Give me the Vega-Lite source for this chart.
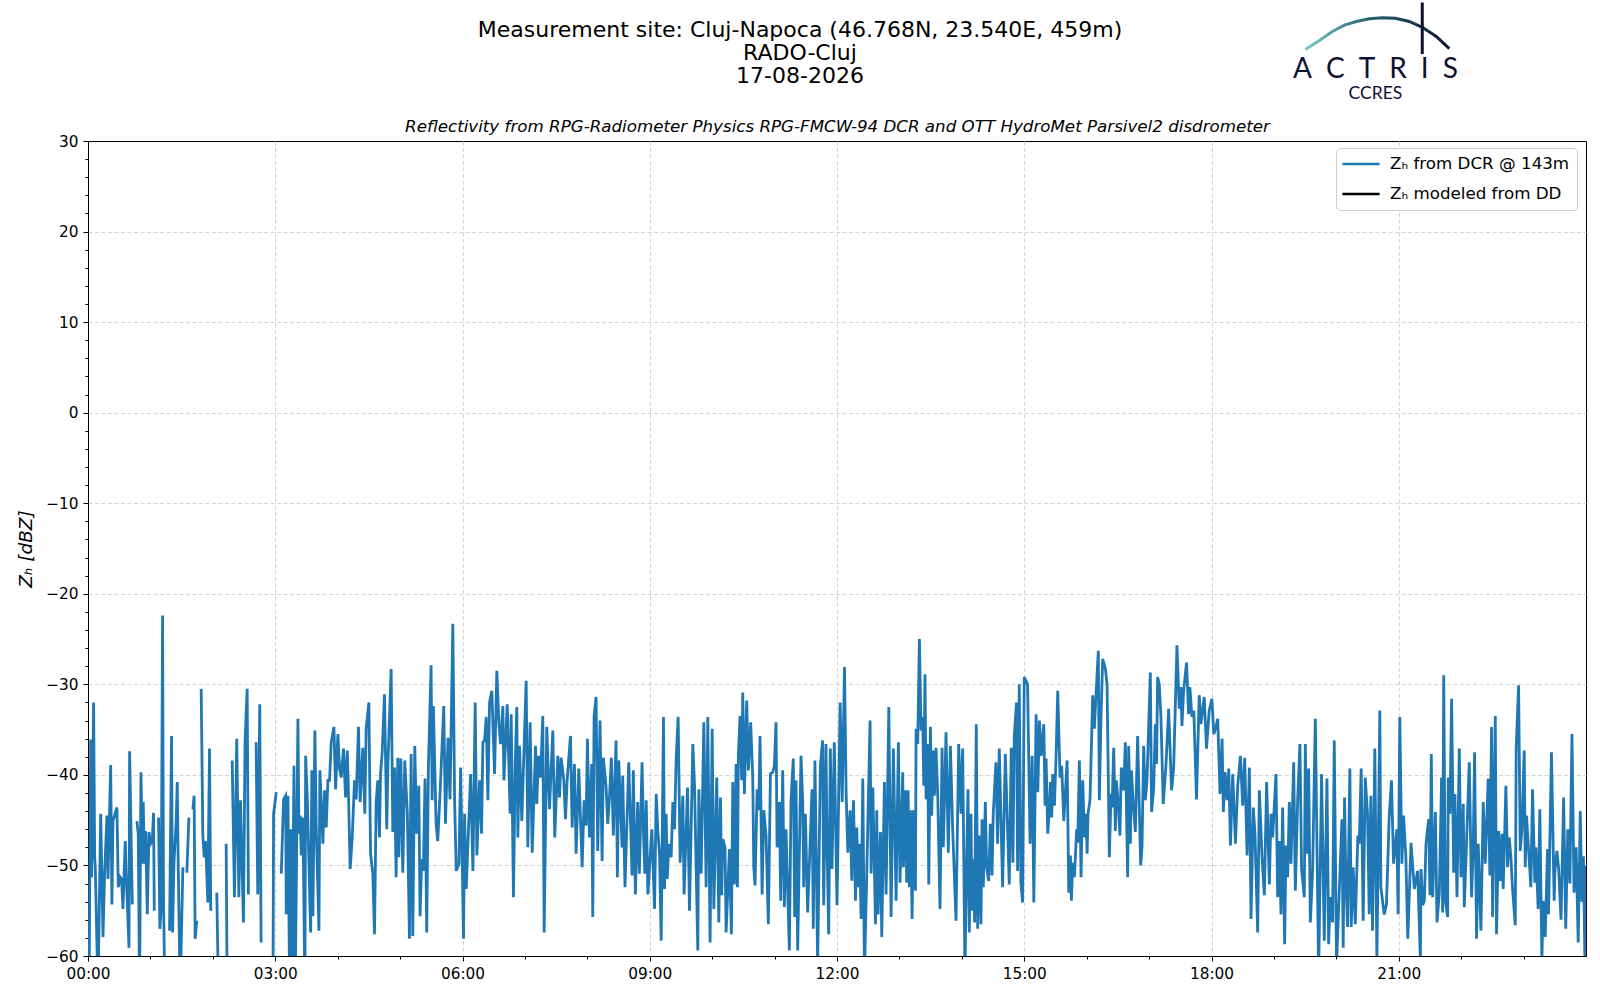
{
  "$schema": "https://vega.github.io/schema/vega-lite/v6.json",
  "width": 1498,
  "height": 815,
  "autosize": {"type": "none"},
  "padding": {"left": 88, "top": 141, "right": 14, "bottom": 44},
  "background": "white",
  "title": {
    "text": ["Measurement site: Cluj-Napoca (46.768N, 23.540E, 459m)", "RADO-Cluj", "17-08-2026"],
    "anchor": "middle",
    "dx": -37,
    "offset": -87,
    "font": "DejaVu Sans",
    "fontSize": 22,
    "fontWeight": "normal",
    "lineHeight": 23,
    "color": "black"
  },
  "datasets": {
    "dcr": [
      {"m":1.0,"z":-64},{"m":2.6,"z":-36.1},{"m":3.5,"z":-51.3},{"m":5.4,"z":-32.0},{"m":6.4,"z":-49.1},{"m":7.0,"z":-50.2},{"m":9.6,"z":-64},{"m":12.2,"z":-44.3},{"m":14.4,"z":-57.9},{"m":16.0,"z":-50.8},{"m":18.2,"z":-44.5},{"m":19.2,"z":-51.5},{"m":21.8,"z":-38.9},{"m":23.0,"z":-54.3},{"m":24.0,"z":-45.1},{"m":27.8,"z":-43.6},{"m":29.1,"z":-52.4},{"m":31.0,"z":-51.3},{"m":32.3,"z":-51.5},{"m":33.6,"z":-54.8},{"m":35.8,"z":-47.3},{"m":36.8,"z":-51.1},{"m":39.4,"z":-59.1},{"m":40.0,"z":-37.4},{"m":42.6,"z":-54.3},{"m":45,"z":null},
      {"m":47.0,"z":-45.1},{"m":48.3,"z":-46.5},{"m":49.6,"z":-64},{"m":50.9,"z":-39.7},{"m":52.5,"z":-49.8},{"m":53.1,"z":-43.0},{"m":54.1,"z":-49.8},{"m":55.4,"z":-46.2},{"m":57.0,"z":-55.4},{"m":58.6,"z":-46.3},{"m":60.2,"z":-47.6},{"m":61.8,"z":-47.3},{"m":63.0,"z":-44.2},{"m":63.7,"z":-55.0},{"m":66,"z":null},
      {"m":67.8,"z":-44.7},{"m":69.1,"z":-57.0},{"m":70.4,"z":-54.3},{"m":71.7,"z":-22.4},{"m":72.6,"z":-53.9},{"m":73.9,"z":-64},{"m":76,"z":null},
      {"m":78.4,"z":-57.2},{"m":79.0,"z":-50.4},{"m":80.3,"z":-35.7},{"m":81.3,"z":-57.4},{"m":82.6,"z":-49.8},{"m":84.8,"z":-45.1},{"m":85.8,"z":-40.8},{"m":86.7,"z":-49.7},{"m":88.6,"z":-64},{"m":91.2,"z":-50.2},{"m":93,"z":null},
      {"m":95.0,"z":-50.8},{"m":97.0,"z":-44.7},{"m":99,"z":null},
      {"m":100.8,"z":-43.8},{"m":102.0,"z":-42.3},{"m":103.0,"z":-58.1},{"m":104.6,"z":-56.1},{"m":106,"z":null},
      {"m":108.8,"z":-30.5},{"m":110.4,"z":-46.7},{"m":111.7,"z":-49.1},{"m":113.0,"z":-47.3},{"m":115.2,"z":-54.1},{"m":116.8,"z":-37.1},{"m":118.0,"z":-55.0},{"m":120,"z":null},
      {"m":123.8,"z":-53.0},{"m":125.4,"z":-64},{"m":127,"z":null},
      {"m":132.8,"z":-47.6},{"m":133.8,"z":-64},{"m":135,"z":null},
      {"m":138.6,"z":-38.4},{"m":140.8,"z":-53.5},{"m":143.0,"z":-36.0},{"m":145.0,"z":-53.5},{"m":146.6,"z":-42.8},{"m":149.4,"z":-56.3},{"m":151.0,"z":-36.2},{"m":153.0,"z":-30.5},{"m":154.2,"z":-53.2},{"m":156,"z":null},
      {"m":161.6,"z":-36.4},{"m":163.2,"z":-53.2},{"m":165.1,"z":-32.2},{"m":166.4,"z":-58.5},{"m":168,"z":null},
      {"m":177.8,"z":-64},{"m":178.4,"z":-44.3},{"m":181.0,"z":-41.9},{"m":184,"z":null},
      {"m":185.8,"z":-50.9},{"m":188.0,"z":-42.7},{"m":190.0,"z":-42.3},{"m":190.6,"z":-55.4},{"m":192.2,"z":-42.3},{"m":193.8,"z":-64},{"m":194.8,"z":-46.0},{"m":196.0,"z":-64},{"m":198.0,"z":-39.0},{"m":199.2,"z":-64},{"m":201.8,"z":-33.8},{"m":202.8,"z":-46.5},{"m":204.0,"z":-44.5},{"m":205.0,"z":-48.9},{"m":206.6,"z":-44.7},{"m":208.5,"z":-64},{"m":209.2,"z":-37.9},{"m":210.8,"z":-42.5},{"m":214.0,"z":-57.4},{"m":215.2,"z":-39.5},{"m":216.2,"z":-55.6},{"m":218.1,"z":-35.1},{"m":219.4,"z":-45.8},{"m":222.0,"z":-57.2},{"m":222.9,"z":-39.5},{"m":225.8,"z":-47.6},{"m":227.4,"z":-41.7},{"m":229.0,"z":-45.8},{"m":230.6,"z":-40.6},{"m":232.2,"z":-40.6},{"m":233.8,"z":-36.4},{"m":236.4,"z":-34.7},{"m":238.0,"z":-41.6},{"m":240.2,"z":-35.5},{"m":241.8,"z":-39.3},{"m":243.4,"z":-40.3},{"m":245.6,"z":-37.1},{"m":247.6,"z":-42.5},{"m":249.2,"z":-37.3},{"m":250.1,"z":-40.6},{"m":252.0,"z":-50.4},{"m":254.0,"z":-46.9},{"m":256.2,"z":-40.6},{"m":257.8,"z":-42.7},{"m":260.0,"z":-34.7},{"m":261.6,"z":-43.0},{"m":264.2,"z":-37.0},{"m":266.1,"z":-44.3},{"m":267.4,"z":-34.9},{"m":270.0,"z":-32.0},{"m":271.6,"z":-48.7},{"m":273.8,"z":-50.9},{"m":275.4,"z":-57.6},{"m":277.0,"z":-43.0},{"m":278.6,"z":-40.6},{"m":280.2,"z":-46.9},{"m":281.2,"z":-39.9},{"m":282.8,"z":-37.5},{"m":285.0,"z":-31.1},{"m":287.2,"z":-46.0},{"m":288.2,"z":-39.2},{"m":291.4,"z":-28.3},{"m":293.0,"z":-46.3},{"m":294.6,"z":-39.2},{"m":296.2,"z":-51.3},{"m":297.8,"z":-38.1},{"m":298.8,"z":-49.1},{"m":300.7,"z":-38.2},{"m":302.6,"z":-50.8},{"m":304.5,"z":-38.4},{"m":307.0,"z":-44.3},{"m":309.0,"z":-58.1},{"m":310.6,"z":-37.7},{"m":312.2,"z":-57.8},{"m":314.1,"z":-36.8},{"m":316.0,"z":-46.5},{"m":318.0,"z":-41.2},{"m":319.2,"z":-55.6},{"m":320.8,"z":-49.3},{"m":322.4,"z":-50.6},{"m":324.0,"z":-40.4},{"m":325.6,"z":-57.4},{"m":327.2,"z":-39.3},{"m":329.8,"z":-27.9},{"m":330.8,"z":-42.8},{"m":332.0,"z":-32.4},{"m":334.6,"z":-45.4},{"m":336.2,"z":-47.3},{"m":338.4,"z":-42.1},{"m":342.0,"z":-32.4},{"m":343.6,"z":-45.4},{"m":346.1,"z":-35.9},{"m":348.0,"z":-42.7},{"m":350.7,"z":-23.3},
      {"m":352.4,"z":-42.8},{"m":354.0,"z":-50.6},{"m":356.6,"z":-49.8},{"m":358.2,"z":-39.2},{"m":361.0,"z":-58.1},{"m":362.0,"z":-44.3},{"m":363.6,"z":-52.6},{"m":367.8,"z":-39.9},{"m":370.0,"z":-50.6},{"m":372.2,"z":-32.0},{"m":373.8,"z":-48.9},{"m":376.4,"z":-40.6},{"m":378.3,"z":-46.5},{"m":379.6,"z":-36.4},{"m":381.2,"z":-36.2},{"m":382.8,"z":-33.6},{"m":384.4,"z":-42.8},{"m":386.0,"z":-32.0},{"m":388.2,"z":-30.7},{"m":390.8,"z":-39.9},{"m":393.0,"z":-28.5},{"m":395.0,"z":-34.4},{"m":396.6,"z":-36.6},{"m":398.8,"z":-32.4},{"m":399.8,"z":-40.6},{"m":403.0,"z":-32.2},{"m":405.8,"z":-44.3},{"m":406.8,"z":-33.3},{"m":409.0,"z":-53.5},{"m":410.6,"z":-39.2},{"m":412.2,"z":-32.5},{"m":413.2,"z":-46.9},{"m":414.8,"z":-36.8},{"m":417.0,"z":-45.1},{"m":421.2,"z":-29.6},{"m":422.8,"z":-48.0},{"m":425.0,"z":-34.2},{"m":427.0,"z":-48.6},{"m":430.2,"z":-36.8},{"m":431.4,"z":-43.2},{"m":433.0,"z":-37.9},{"m":435.0,"z":-40.3},{"m":437.2,"z":-33.5},{"m":438.5,"z":-57.4},{"m":441.0,"z":-34.7},{"m":443.6,"z":-43.8},{"m":446.8,"z":-35.1},{"m":448.7,"z":-46.9},{"m":451.6,"z":-37.9},{"m":453.2,"z":-42.5},{"m":454.8,"z":-38.1},{"m":457.4,"z":-40.6},{"m":459.0,"z":-44.9},{"m":460.6,"z":-40.6},{"m":463.8,"z":-35.7},{"m":465.4,"z":-45.8},{"m":467.6,"z":-38.8},{"m":469.2,"z":-48.7},{"m":471.8,"z":-39.3},{"m":475.0,"z":-50.2},{"m":476.9,"z":-42.8},{"m":478.8,"z":-45.6},{"m":480.1,"z":-36.0},{"m":482.0,"z":-46.9},{"m":484.2,"z":-38.8},{"m":485.2,"z":-55.7},{"m":486.5,"z":-33.5},{"m":488.4,"z":-31.4},{"m":490.0,"z":-48.4},{"m":492.2,"z":-34.0},{"m":494.2,"z":-49.5},{"m":495.4,"z":-38.1},{"m":498.0,"z":-41.2},{"m":499.6,"z":-45.4},{"m":501.2,"z":-42.7},{"m":503.1,"z":-38.1},{"m":505.0,"z":-46.7},{"m":507.6,"z":-36.2},{"m":508.9,"z":-51.3},{"m":510.2,"z":-38.4},{"m":513.4,"z":-48.0},{"m":514.0,"z":-40.1},{"m":516.2,"z":-52.4},{"m":519.8,"z":-38.6},{"m":523.0,"z":-51.1},{"m":524.2,"z":-39.5},{"m":526.2,"z":-53.2},{"m":528.4,"z":-43.0},{"m":530.0,"z":-50.9},{"m":532.6,"z":-38.6},
      {"m":534.0,"z":-46.5},{"m":535.3,"z":-50.9},{"m":536.6,"z":-42.8},{"m":538.2,"z":-53.2},{"m":542.0,"z":-46.0},{"m":544.6,"z":-54.8},{"m":546.2,"z":-42.1},{"m":547.8,"z":-46.2},{"m":549.4,"z":-48.7},{"m":551.0,"z":-58.3},{"m":553.2,"z":-33.6},{"m":554.2,"z":-52.6},{"m":555.8,"z":-44.3},{"m":556.8,"z":-51.5},{"m":558.4,"z":-47.6},{"m":560.6,"z":-49.1},{"m":562.2,"z":-43.0},{"m":563.8,"z":-46.0},{"m":565.4,"z":-38.2},{"m":567.3,"z":-33.6},{"m":569.2,"z":-49.7},{"m":571.8,"z":-42.3},{"m":573.0,"z":-53.2},{"m":576.3,"z":-41.4},{"m":578.2,"z":-55.0},{"m":581.4,"z":-36.6},{"m":583.0,"z":-41.0},{"m":586.2,"z":-59.4},{"m":587.2,"z":-41.6},{"m":589.4,"z":-50.9},{"m":592.0,"z":-34.2},{"m":594.2,"z":-52.4},{"m":595.8,"z":-33.6},{"m":598.0,"z":-58.5},{"m":600.0,"z":-34.9},{"m":601.6,"z":-54.8},{"m":604.4,"z":-40.3},{"m":606.4,"z":-56.3},{"m":608.0,"z":-42.5},{"m":609.2,"z":-53.3},{"m":610.2,"z":-47.1},{"m":612.4,"z":-48.0},{"m":613.4,"z":-57.4},{"m":616.6,"z":-48.2},{"m":618.5,"z":-57.6},{"m":619.8,"z":-40.8},{"m":621.4,"z":-52.1},{"m":623.0,"z":-38.8},{"m":624.3,"z":-52.4},{"m":625.2,"z":-37.7},{"m":626.8,"z":-33.5},{"m":628.4,"z":-40.6},{"m":629.4,"z":-30.9},{"m":631.0,"z":-42.1},{"m":633.2,"z":-31.8},{"m":634.8,"z":-39.5},{"m":637.0,"z":-34.2},{"m":639.0,"z":-40.3},{"m":640.0,"z":-50.2},{"m":641.2,"z":-52.2},{"m":643.2,"z":-41.6},{"m":644.8,"z":-43.9},{"m":646.0,"z":-35.7},{"m":648.0,"z":-53.2},{"m":649.6,"z":-43.9},{"m":651.8,"z":-46.7},{"m":654.0,"z":-56.5},{"m":656.0,"z":-39.9},{"m":658.2,"z":-39.7},{"m":659.8,"z":-39.0},{"m":661.4,"z":-34.2},{"m":662.4,"z":-48.0},{"m":664.6,"z":-43.0},{"m":665.9,"z":-53.9},{"m":667.8,"z":-39.5},{"m":669.4,"z":-54.6},{"m":671.0,"z":-46.0},{"m":674.2,"z":-59.4},{"m":675.8,"z":-42.8},{"m":678.0,"z":-38.2},{"m":679.3,"z":-55.7},{"m":680.6,"z":-40.6},{"m":682.2,"z":-59.4},{"m":685.4,"z":-37.9},{"m":687.0,"z":-42.8},{"m":688.0,"z":-52.4},{"m":689.6,"z":-44.3},{"m":691.8,"z":-55.2},{"m":696.0,"z":-41.6},{"m":697.2,"z":-57.0},{"m":698.8,"z":-38.4},{"m":701.4,"z":-61},{"m":704.0,"z":-39.0},{"m":706.2,"z":-36.2},{"m":707.2,"z":-54.4},{"m":709.4,"z":-36.6},{"m":710.4,"z":-47.5},{"m":712.0,"z":-57.6},{"m":713.6,"z":-37.1},{"m":715.2,"z":-50.4},{"m":717.4,"z":-36.4},{"m":720.0,"z":-54.4},
      {"m":723.0,"z":-32.0},{"m":725.0,"z":-43.0},{"m":727.2,"z":-28.1},{"m":728.8,"z":-42.1},{"m":730.4,"z":-48.6},{"m":732.6,"z":-43.9},{"m":734.2,"z":-51.7},{"m":735.8,"z":-42.8},{"m":737.8,"z":-53.9},{"m":739.0,"z":-45.8},{"m":740.3,"z":-52.4},{"m":741.6,"z":-47.6},{"m":743.2,"z":-55.9},{"m":744.8,"z":-40.4},{"m":746.4,"z":-62},{"m":748.6,"z":-50.9},{"m":751.8,"z":-34.0},{"m":752.8,"z":-50.9},{"m":754.4,"z":-41.4},{"m":757.0,"z":-56.5},{"m":758.2,"z":-43.9},{"m":759.5,"z":-55.4},{"m":761.8,"z":-46.3},{"m":763.0,"z":-57.9},{"m":765.6,"z":-40.8},{"m":767.2,"z":-53.2},{"m":769.8,"z":-32.5},{"m":772.0,"z":-55.7},{"m":774.2,"z":-37.1},{"m":776.8,"z":-53.9},{"m":779.0,"z":-36.4},{"m":780.6,"z":-51.9},{"m":783.2,"z":-39.7},{"m":783.8,"z":-50.2},{"m":785.8,"z":-41.7},{"m":787.0,"z":-51.9},{"m":788.3,"z":-41.7},{"m":789.6,"z":-52.4},{"m":790.6,"z":-43.9},{"m":792.2,"z":-55.9},{"m":793.4,"z":-43.9},{"m":795.4,"z":-52.8},{"m":796.0,"z":-34.9},{"m":797.6,"z":-36.6},{"m":799.2,"z":-25.0},{"m":800.8,"z":-35.1},{"m":802.4,"z":-33.6},{"m":803.4,"z":-41.2},{"m":804.6,"z":-28.9},{"m":805.6,"z":-42.7},{"m":807.2,"z":-36.6},{"m":808.2,"z":-52.1},{"m":809.8,"z":-34.7},{"m":811.0,"z":-44.5},{"m":812.6,"z":-37.3},{"m":813.6,"z":-42.3},{"m":815.2,"z":-37.0},{"m":816.8,"z":-42.1},{"m":819.0,"z":-54.8},{"m":821.0,"z":-37.0},{"m":822.2,"z":-48.0},{"m":824.8,"z":-35.3},{"m":827.0,"z":-48.6},{"m":829.0,"z":-36.8},{"m":831.2,"z":-46.0},{"m":834.4,"z":-56.1},{"m":837.0,"z":-36.6},{"m":839.2,"z":-44.3},{"m":840.8,"z":-37.1},{"m":843.0,"z":-62},{"m":844.6,"z":-49.5},{"m":845.9,"z":-41.6},{"m":847.2,"z":-57.4},{"m":848.8,"z":-44.3},{"m":849.8,"z":-55.0},{"m":851.0,"z":-49.3},{"m":852.3,"z":-56.3},{"m":853.9,"z":-34.4},{"m":855.2,"z":-57.0},{"m":856.8,"z":-46.7},{"m":858.4,"z":-56.5},{"m":859.4,"z":-44.9},{"m":860.6,"z":-52.4},{"m":862.6,"z":-43.0},{"m":863.8,"z":-50.2},{"m":865.8,"z":-51.7},{"m":867.4,"z":-45.4},{"m":869.0,"z":-51.1},{"m":870.2,"z":-44.3},{"m":872.8,"z":-38.6},{"m":874.4,"z":-47.6},{"m":876.0,"z":-37.1},{"m":879.2,"z":-52.4},{"m":881.8,"z":-37.7},{"m":885.6,"z":-52.1},{"m":887.5,"z":-37.0},{"m":889.1,"z":-49.7},{"m":890.4,"z":-35.7},{"m":892.6,"z":-32.0},{"m":893.6,"z":-50.6},{"m":895.2,"z":-30.0},{"m":896.8,"z":-51.9},{"m":898.4,"z":-54.1},{"m":900.0,"z":-29.2},{"m":903.2,"z":-30.0},
      {"m":905.6,"z":-47.6},{"m":907.6,"z":-37.9},{"m":909.2,"z":-54.1},{"m":911.4,"z":-33.3},{"m":913.0,"z":-41.9},{"m":914.6,"z":-34.0},{"m":916.2,"z":-37.9},{"m":918.8,"z":-34.4},{"m":920.0,"z":-43.4},{"m":921.0,"z":-38.2},{"m":922.6,"z":-46.5},{"m":924.2,"z":-43.6},{"m":925.2,"z":-40.8},{"m":926.4,"z":-44.7},{"m":927.4,"z":-39.9},{"m":929.0,"z":-43.4},{"m":930.6,"z":-37.9},{"m":932.2,"z":-30.7},{"m":934.4,"z":-40.3},{"m":936.0,"z":-39.0},{"m":938.0,"z":-45.1},{"m":941.2,"z":-38.4},{"m":942.8,"z":-53.0},{"m":944.4,"z":-48.9},{"m":945.3,"z":-53.9},{"m":946.6,"z":-49.7},{"m":948.2,"z":-51.3},{"m":950.4,"z":-46.0},{"m":951.4,"z":-47.5},{"m":953.0,"z":-38.4},{"m":954.6,"z":-51.3},{"m":956.2,"z":-40.6},{"m":957.8,"z":-46.9},{"m":959.4,"z":-44.3},{"m":960.4,"z":-48.7},{"m":961.3,"z":-44.3},{"m":963.2,"z":-42.8},{"m":964.2,"z":-38.4},{"m":965.8,"z":-31.2},{"m":967.4,"z":-34.9},{"m":969.0,"z":-31.1},{"m":971.2,"z":-26.3},{"m":972.2,"z":-42.8},{"m":973.8,"z":-33.6},{"m":975.4,"z":-27.2},{"m":978.0,"z":-28.3},{"m":979.6,"z":-30.0},{"m":981.8,"z":-49.1},{"m":983.4,"z":-42.1},{"m":984.4,"z":-43.6},{"m":986.0,"z":-37.0},{"m":987.6,"z":-46.2},{"m":988.5,"z":-40.6},{"m":990.1,"z":-42.7},{"m":992.0,"z":-46.7},{"m":993.3,"z":-39.2},{"m":995.6,"z":-41.7},{"m":997.2,"z":-36.4},{"m":999.4,"z":-51.3},{"m":1000.4,"z":-36.8},{"m":1002.0,"z":-47.6},{"m":1003.0,"z":-39.5},{"m":1004.8,"z":-43.2},{"m":1006.8,"z":-46.3},{"m":1009.0,"z":-35.7},{"m":1011.9,"z":-50.0},{"m":1013.2,"z":-48.0},{"m":1014.8,"z":-36.8},{"m":1016.4,"z":-42.8},{"m":1018.0,"z":-40.6},{"m":1021.2,"z":-28.7},{"m":1022.4,"z":-44.1},{"m":1024.4,"z":-41.4},{"m":1026.0,"z":-34.4},{"m":1027.2,"z":-38.8},{"m":1028.2,"z":-29.2},{"m":1029.8,"z":-30.0},{"m":1031.4,"z":-33.6},{"m":1033.6,"z":-43.2},{"m":1036.2,"z":-39.0},{"m":1038.8,"z":-32.7},{"m":1041.6,"z":-41.7},{"m":1043.6,"z":-39.3},{"m":1046.8,"z":-25.7},{"m":1049.0,"z":-32.7},{"m":1050.6,"z":-30.3},{"m":1051.6,"z":-34.6},{"m":1053.2,"z":-30.7},{"m":1056.0,"z":-27.6},{"m":1058.0,"z":-33.3},{"m":1059.2,"z":-30.3},{"m":1061.2,"z":-33.6},{"m":1063.0,"z":-32.9},{"m":1065.6,"z":-42.7},{"m":1068.2,"z":-31.2},{"m":1069.8,"z":-34.4},{"m":1073.0,"z":-31.4},{"m":1075.2,"z":-37.1},{"m":1077.8,"z":-32.9},{"m":1080.4,"z":-31.6},
      {"m":1082.2,"z":-35.5},{"m":1083.8,"z":-34.9},{"m":1086.0,"z":-33.8},{"m":1088.2,"z":-42.1},{"m":1090.2,"z":-36.0},{"m":1091.4,"z":-44.1},{"m":1093.0,"z":-39.7},{"m":1095.0,"z":-42.8},{"m":1096.6,"z":-39.3},{"m":1098.2,"z":-47.8},{"m":1100.4,"z":-39.9},{"m":1103.0,"z":-47.6},{"m":1105.2,"z":-41.2},{"m":1107.8,"z":-37.9},{"m":1110.0,"z":-43.4},{"m":1111.9,"z":-38.1},{"m":1114.2,"z":-48.9},{"m":1116.4,"z":-39.2},{"m":1118.0,"z":-55.9},{"m":1120.2,"z":-43.6},{"m":1121.8,"z":-46.5},{"m":1124.4,"z":-57.4},{"m":1126.0,"z":-41.7},{"m":1128.6,"z":-49.1},{"m":1130.8,"z":-53.3},{"m":1133.0,"z":-40.8},{"m":1135.6,"z":-52.1},{"m":1137.2,"z":-44.3},{"m":1138.8,"z":-46.9},{"m":1142.0,"z":-39.9},{"m":1143.6,"z":-53.5},{"m":1145.2,"z":-47.3},{"m":1146.8,"z":-55.4},{"m":1148.4,"z":-43.6},{"m":1150.3,"z":-58.7},{"m":1151.6,"z":-47.8},{"m":1153.2,"z":-51.3},{"m":1154.8,"z":-43.0},{"m":1156.4,"z":-49.8},{"m":1159.0,"z":-38.6},{"m":1160.6,"z":-52.8},{"m":1162.8,"z":-42.8},{"m":1165.0,"z":-36.6},{"m":1166.6,"z":-50.4},{"m":1169.2,"z":-53.5},{"m":1170.2,"z":-36.6},{"m":1171.8,"z":-48.7},{"m":1173.4,"z":-39.3},{"m":1175.0,"z":-56.3},{"m":1177.2,"z":-50.6},{"m":1179.8,"z":-33.8},{"m":1183.0,"z":-62},{"m":1185.8,"z":-39.9},{"m":1188.4,"z":-58.3},{"m":1191.0,"z":-40.4},{"m":1192.6,"z":-58.7},{"m":1194.2,"z":-53.5},{"m":1196.4,"z":-56.3},{"m":1198.0,"z":-36.2},{"m":1200.2,"z":-61},{"m":1205.4,"z":-44.9},{"m":1206.6,"z":-59.1},{"m":1207.9,"z":-42.5},{"m":1209.2,"z":-51.7},{"m":1210.8,"z":-56.8},{"m":1213.0,"z":-39.3},{"m":1214.3,"z":-56.8},{"m":1216.2,"z":-50.2},{"m":1218.2,"z":-56.5},{"m":1220.7,"z":-46.7},{"m":1222.0,"z":-47.6},{"m":1223.9,"z":-39.3},{"m":1225.8,"z":-56.1},{"m":1227.8,"z":-40.3},{"m":1230.0,"z":-44.3},{"m":1231.6,"z":-55.4},{"m":1233.2,"z":-42.3},{"m":1234.8,"z":-57.2},{"m":1237.0,"z":-37.1},{"m":1239.0,"z":-60.5},{"m":1241.8,"z":-32.9},{"m":1242.8,"z":-52.4},{"m":1246.0,"z":-55.4},{"m":1248.2,"z":-54.3},{"m":1250.8,"z":-44.7},{"m":1253.0,"z":-40.6},{"m":1255.0,"z":-49.8},{"m":1258.2,"z":-46.0},{"m":1259.4,"z":-55.4},{"m":1261.0,"z":-33.6},{"m":1263.0,"z":-49.8},{"m":1264.6,"z":-44.5},{"m":1266.8,"z":-48.9},{"m":1268.7,"z":-58.1},
      {"m":1271.8,"z":-47.5},{"m":1275.0,"z":-52.6},{"m":1278.2,"z":-50.6},{"m":1280.8,"z":-60.5},{"m":1281.4,"z":-50.4},{"m":1283.0,"z":-54.4},{"m":1284.6,"z":-53.9},{"m":1286.2,"z":-47.6},{"m":1288.8,"z":-44.9},{"m":1290.0,"z":-53.3},{"m":1291.3,"z":-37.7},{"m":1292.6,"z":-53.5},{"m":1295.2,"z":-44.1},{"m":1296.8,"z":-56.3},{"m":1299.0,"z":-53.0},{"m":1301.2,"z":-40.3},{"m":1302.2,"z":-55.2},{"m":1303.2,"z":-29.0},{"m":1304.8,"z":-53.9},{"m":1307.0,"z":-55.7},{"m":1307.6,"z":-40.3},{"m":1309.2,"z":-44.3},{"m":1310.8,"z":-31.6},{"m":1312.8,"z":-50.8},{"m":1314.0,"z":-42.1},{"m":1316.0,"z":-53.5},{"m":1318.2,"z":-37.1},{"m":1319.8,"z":-51.3},{"m":1322.0,"z":-43.2},{"m":1323.0,"z":-54.6},{"m":1325.2,"z":-47.3},{"m":1327.8,"z":-38.6},{"m":1330.0,"z":-53.5},{"m":1331.6,"z":-48.0},{"m":1332.9,"z":-37.5},{"m":1334.8,"z":-58.1},{"m":1336.4,"z":-47.6},{"m":1339.0,"z":-57.2},{"m":1341.2,"z":-43.0},{"m":1343.2,"z":-49.8},{"m":1346.0,"z":-40.4},{"m":1347.6,"z":-51.1},{"m":1349.2,"z":-34.7},{"m":1350.2,"z":-55.7},{"m":1352.8,"z":-33.5},{"m":1354.0,"z":-57.6},{"m":1356.0,"z":-46.2},{"m":1357.6,"z":-51.7},{"m":1359.2,"z":-46.5},{"m":1360.4,"z":-52.6},{"m":1363.0,"z":-41.2},{"m":1364.6,"z":-50.2},{"m":1366.2,"z":-46.9},{"m":1367.8,"z":-49.1},{"m":1369.4,"z":-52.6},{"m":1372.0,"z":-56.6},{"m":1372.9,"z":-37.0},{"m":1375.2,"z":-30.1},{"m":1376.8,"z":-48.4},{"m":1378.4,"z":-46.0},{"m":1380.6,"z":-37.3},{"m":1381.6,"z":-50.2},{"m":1382.8,"z":-44.5},{"m":1387.0,"z":-52.4},{"m":1388.6,"z":-41.6},{"m":1390.8,"z":-51.9},{"m":1391.8,"z":-48.0},{"m":1394.0,"z":-54.8},{"m":1395.6,"z":-43.8},{"m":1397.6,"z":-60.5},{"m":1398.8,"z":-53.9},{"m":1400.8,"z":-57.9},{"m":1403.0,"z":-48.2},{"m":1404.0,"z":-55.4},{"m":1406.8,"z":-37.5},{"m":1409.4,"z":-53.9},{"m":1410.0,"z":-50.8},{"m":1412.0,"z":-48.4},{"m":1413.6,"z":-50.2},
      {"m":1416.0,"z":-56.0},{"m":1418.5,"z":-42.5},{"m":1420.5,"z":-57.0},{"m":1422.5,"z":-46.0},{"m":1424.5,"z":-52.0},{"m":1426.5,"z":-35.5},{"m":1428.5,"z":-53.0},{"m":1430.5,"z":-48.0},{"m":1432.5,"z":-58.5},{"m":1434.5,"z":-44.0},{"m":1436.0,"z":-54.0},{"m":1437.5,"z":-49.0},{"m":1439.0,"z":-61},{"m":1440.0,"z":-50.0}
    ],
    "arc": [
      {"m":1170.2,"z":40.1},{"m":1183.7,"z":41.1},{"m":1196.2,"z":42.1},{"m":1207.7,"z":42.8},{"m":1219.2,"z":43.2},{"m":1231.7,"z":43.5},{"m":1244.2,"z":43.6},{"m":1256.7,"z":43.55},{"m":1270.1,"z":43.2},{"m":1282.6,"z":42.55},{"m":1296.1,"z":41.55},{"m":1308.6,"z":40.2}
    ],
    "mast": [
      {"m":1282.6,"z":45.3,"z2":39.6}
    ],
    "brand": [
      {"m":1237.6,"z":37.8,"label":"A\u2002C\u2002T\u2002R\u2002I\u2002S"}
    ],
    "unit": [
      {"m":1237.6,"z":35.2,"label":"CCRES"}
    ]
  },
  "layer": [
    {
      "data": {"name": "dcr"},
      "mark": {"type": "line", "clip": true, "strokeWidth": 2.8, "invalid": "break-paths-show-domains"},
      "encoding": {
        "x": {
          "field": "m",
          "type": "quantitative",
          "scale": {"domain": [0, 1440], "nice": false, "zero": false},
          "axis": {
            "orient": "bottom",
            "title": null,
            "values": [0,60,120,180,240,300,360,420,480,540,600,660,720,780,840,900,960,1020,1080,1140,1200,1260,1320,1380],
            "labelExpr": "datum.value % 180 === 0 ? (datum.value < 600 ? '0' : '') + floor(datum.value / 60) + ':00' : ''",
            "tickSize": {"condition": {"test": "datum.value % 180 === 0", "value": 5}, "value": 3},
            "gridOpacity": {"condition": {"test": "datum.value % 180 === 0 && datum.value > 0", "value": 1}, "value": 0},
            "grid": true,
            "gridColor": "#d3d3d3",
            "gridDash": [4, 2.5],
            "gridWidth": 1,
            "domain": false,
            "tickColor": "black",
            "tickWidth": 1,
            "labelFont": "DejaVu Sans",
            "labelFontSize": 15.3,
            "labelColor": "black",
            "labelPadding": 5,
            "labelOverlap": false,
            "labelFlush": false
          }
        },
        "y": {
          "field": "z",
          "type": "quantitative",
          "scale": {"domain": [-60, 30], "nice": false, "zero": false},
          "axis": {
            "orient": "left",
            "title": "Z\u2095 [dBZ]",
            "titleFont": "DejaVu Sans",
            "titleFontStyle": "italic",
            "titleFontWeight": "normal",
            "titleFontSize": 18.5,
            "titleColor": "black",
            "titlePadding": 10,
            "values": [-60,-58,-56,-54,-52,-50,-48,-46,-44,-42,-40,-38,-36,-34,-32,-30,-28,-26,-24,-22,-20,-18,-16,-14,-12,-10,-8,-6,-4,-2,0,2,4,6,8,10,12,14,16,18,20,22,24,26,28,30],
            "labelExpr": "datum.value % 10 === 0 ? datum.label : ''",
            "tickSize": {"condition": {"test": "datum.value % 10 === 0", "value": 5}, "value": 3},
            "gridOpacity": {"condition": {"test": "datum.value % 10 === 0 && datum.value > -60 && datum.value < 30", "value": 1}, "value": 0},
            "grid": true,
            "gridColor": "#d3d3d3",
            "gridDash": [4, 2.5],
            "gridWidth": 1,
            "domain": false,
            "tickColor": "black",
            "tickWidth": 1,
            "labelFont": "DejaVu Sans",
            "labelFontSize": 15.3,
            "labelColor": "black",
            "labelPadding": 5,
            "labelOverlap": false,
            "labelFlush": false
          }
        },
        "color": {
          "datum": "Z\u2095 from DCR @ 143m",
          "scale": {"domain": ["Z\u2095 from DCR @ 143m", "Z\u2095 modeled from DD"], "range": ["#1f77b4", "#000000"]},
          "legend": {
            "orient": "none",
            "legendX": 1248,
            "legendY": 7,
            "title": null,
            "labelFont": "DejaVu Sans",
            "labelFontSize": 16.7,
            "labelColor": "black",
            "labelLimit": 400,
            "symbolType": "M-2.4,0H2.4",
            "symbolSize": 240,
            "symbolStrokeWidth": 2.5,
            "symbolOffset": 9,
            "labelOffset": 20,
            "padding": 7,
            "rowPadding": 12,
            "strokeColor": "#cccccc",
            "fillColor": "white",
            "cornerRadius": 4
          }
        }
      }
    },
    {
      "data": {"name": "arc"},
      "mark": {"type": "line", "clip": false, "strokeWidth": 3,
        "color": {"gradient": "linear", "x1": 0, "y1": 0, "x2": 1, "y2": 0,
          "stops": [{"offset": 0, "color": "#7ccbc6"}, {"offset": 0.45, "color": "#23606e"}, {"offset": 1, "color": "#0f1133"}]}},
      "encoding": {
        "x": {"field": "m", "type": "quantitative", "axis": null},
        "y": {"field": "z", "type": "quantitative", "axis": null}
      }
    },
    {
      "data": {"name": "mast"},
      "mark": {"type": "rule", "clip": false, "strokeWidth": 3, "color": "#0f1133"},
      "encoding": {
        "x": {"field": "m", "type": "quantitative", "axis": null},
        "y": {"field": "z", "type": "quantitative", "axis": null},
        "y2": {"field": "z2"}
      }
    },
    {
      "data": {"name": "brand"},
      "mark": {"type": "text", "clip": false, "font": "Lato", "fontSize": 28, "color": "#0f1133", "align": "center", "baseline": "middle"},
      "encoding": {
        "x": {
          "field": "m",
          "type": "quantitative",
          "axis": {
            "orient": "top",
            "title": "Reflectivity from RPG-Radiometer Physics RPG-FMCW-94 DCR and OTT HydroMet Parsivel2 disdrometer",
            "titleFont": "DejaVu Sans",
            "titleFontStyle": "italic",
            "titleFontWeight": "normal",
            "titleFontSize": 16.7,
            "titleColor": "black",
            "titlePadding": 6,
            "labels": false,
            "ticks": false,
            "domain": false,
            "grid": false
          }
        },
        "y": {"field": "z", "type": "quantitative", "axis": null},
        "text": {"field": "label"}
      }
    },
    {
      "data": {"name": "unit"},
      "mark": {"type": "text", "clip": false, "font": "Lato", "fontSize": 17.5, "color": "#0f1133", "align": "center", "baseline": "middle"},
      "encoding": {
        "x": {"field": "m", "type": "quantitative", "axis": null},
        "y": {"field": "z", "type": "quantitative", "axis": null},
        "text": {"field": "label"}
      }
    }
  ],
  "resolve": {"axis": {"x": "independent", "y": "independent"}},
  "config": {
    "font": "DejaVu Sans",
    "view": {"stroke": "black", "strokeWidth": 1}
  }
}
